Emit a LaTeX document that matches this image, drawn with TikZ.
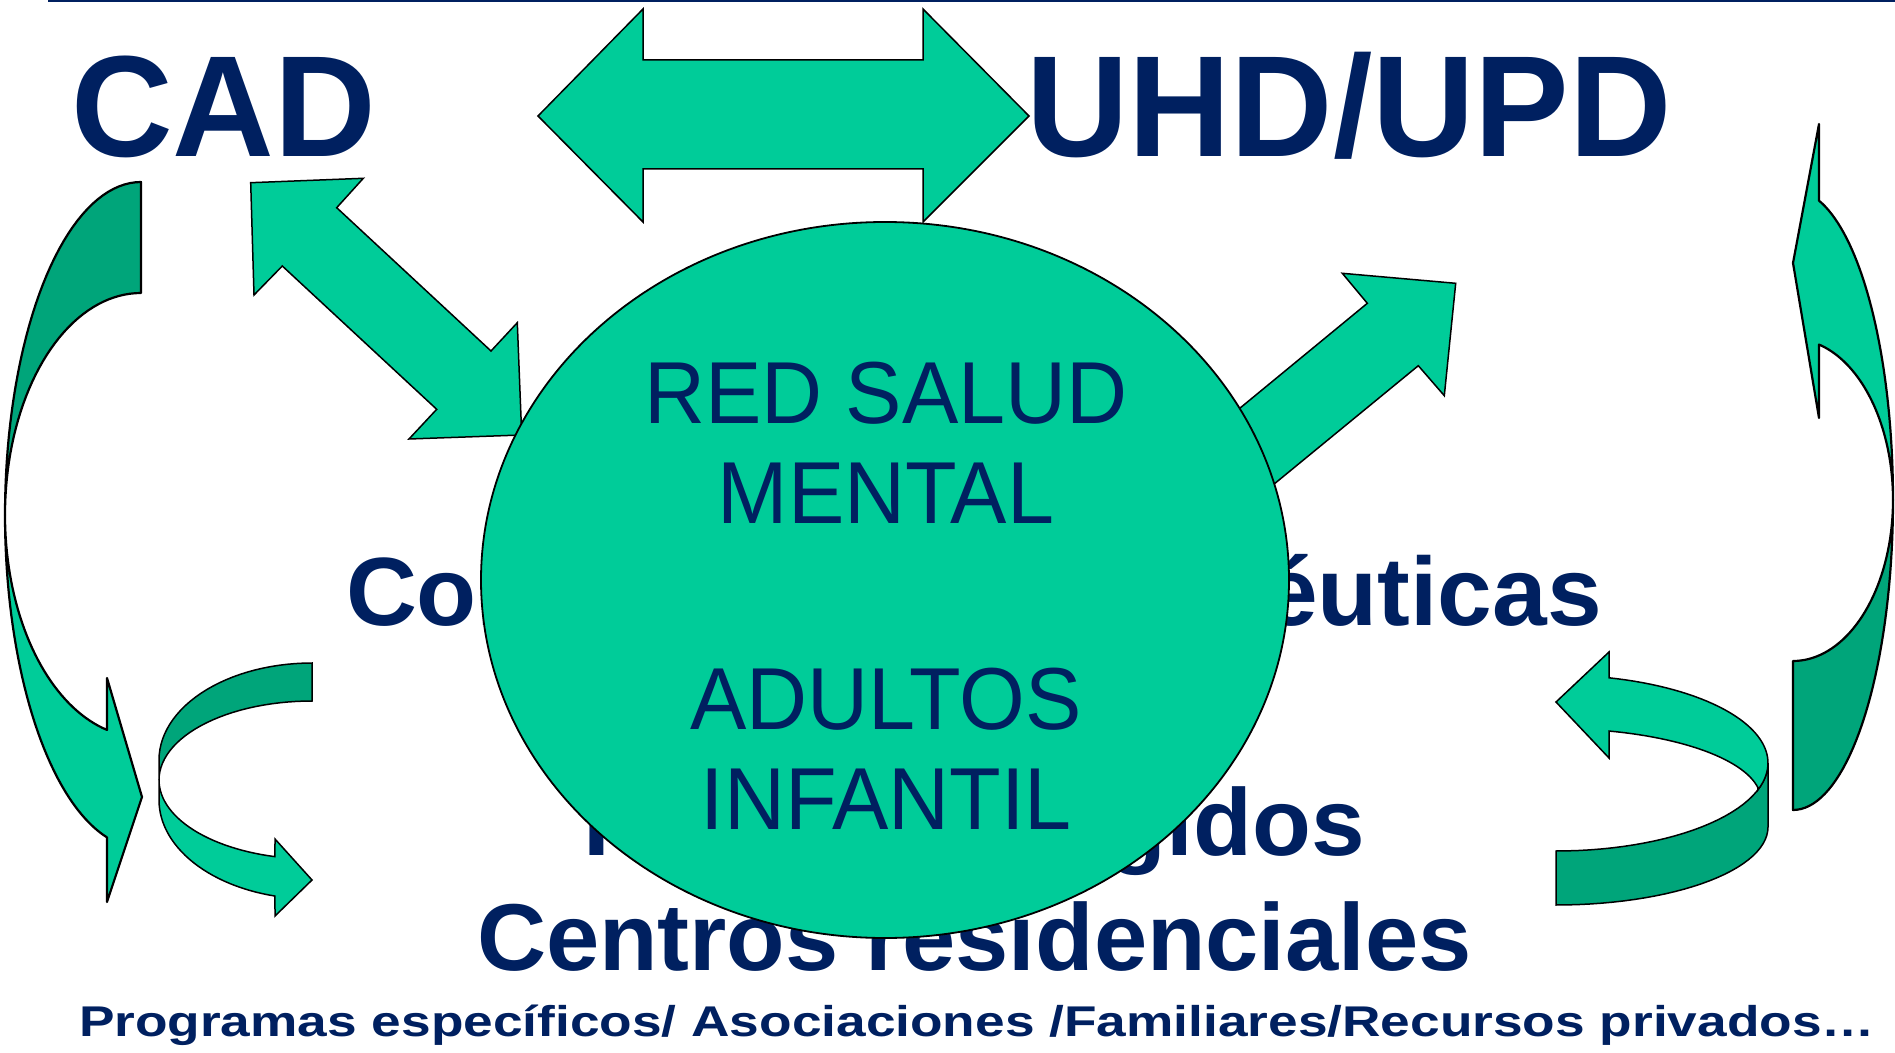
\documentclass[tikz,border=0pt]{standalone}
\usepackage{fontspec}
\setmainfont{Liberation Sans}
\usepackage{graphicx}
\usetikzlibrary{shapes.geometric}
\definecolor{lgreen}{HTML}{00CC99}
\definecolor{dgreen}{HTML}{00A57A}
\definecolor{navy}{HTML}{002060}
\newcommand\fitto[2]{\resizebox{#1}{\height}{#2}}
\tikzset{
  shp/.style={draw=black, line width=0.75pt, line join=miter, fill=lgreen},
  shpd/.style={shp, fill=dgreen},
  curv/.style={line width=1.1pt, line join=round},
  lbl/.style={inner sep=0pt, outer sep=0pt, anchor=base west, text=navy},
  ctext/.style={inner sep=0pt, outer sep=0pt, anchor=base, text=navy,
    font=\fontsize{44}{50}\selectfont},
}
\begin{document}
\begin{tikzpicture}[x=0.5pt, y=-0.5pt]
\useasboundingbox (0,0) rectangle (1895,1053);

% top rule
\draw[navy, line width=1.2pt] (48,1) -- (1895,1);

% titles
\node[lbl, font=\fontsize{72}{80}\selectfont\bfseries] (cad) at (71,157) {\fitto{152.5pt}{CAD}};
\node[lbl, font=\fontsize{72}{80}\selectfont\bfseries] (uhd) at (1026,157) {\fitto{323pt}{UHD/UPD}};

% top double arrow
\draw[shp] (538,116) -- (643,9) -- (643,60) -- (923,60) -- (923,9) -- (1029,116)
  -- (923,222) -- (923,169) -- (643,169) -- (643,222) -- cycle;

% diagonal double arrow CAD <-> centre
\draw[shp] (250.7,182.7) -- (363.3,178.3) -- (336.7,207.7) -- (491,351) -- (517.3,322.7)
  -- (521.7,435) -- (409,439) -- (436.7,409.3) -- (282.3,266) -- (254,295) -- cycle;

% arrow centre -> upper right
\draw[shp] (1087,534) -- (1367.3,303.3) -- (1342.3,273.3) -- (1455.7,283.3)
  -- (1444.3,395.7) -- (1418.3,365.7) -- (1131.7,600.9) -- cycle;

% texts partly hidden by the ellipse
\node[lbl, font=\fontsize{48.5}{55}\selectfont\bfseries] (com) at (346,625) {\fitto{628pt}{Comunidades terapéuticas}};
\node[lbl, font=\fontsize{47.5}{55}\selectfont\bfseries] (pis) at (583,855) {\fitto{391pt}{Pisos protegidos}};
\node[lbl, font=\fontsize{47.5}{55}\selectfont\bfseries] (cen) at (477,970) {\fitto{497.5pt}{Centros residenciales}};

% central ellipse
\node[ellipse, draw=black, line width=0.9pt, fill=lgreen, inner sep=0pt,
  minimum width=404pt, minimum height=358pt] (red) at (885,580) {};
\node[ctext] (t1) at (886,423) {\scalebox{0.96}[1]{RED SALUD}};
\node[ctext] (t2) at (886,523) {\scalebox{0.96}[1]{MENTAL}};
\node[ctext] (t3) at (886,729) {\scalebox{0.96}[1]{ADULTOS}};
\node[ctext] (t4) at (886,829) {\scalebox{0.96}[1]{INFANTIL}};

% big left curved arrow
\draw[shpd, curv] plot[domain=90:180, samples=40, variable=\t] ({141+136*cos(\t)},{515-333*sin(\t)})
  -- plot[domain=180:90, samples=40, variable=\t] ({141+136*cos(\t)},{515-222*sin(\t)}) -- cycle;
\draw[shp, curv] plot[domain=180:255.52, samples=40, variable=\t] ({141+136*cos(\t)},{515-333*sin(\t)})
  -- (107,902) -- (142,797) -- (107,678)
  -- plot[domain=255.52:180, samples=40, variable=\t] ({141+136*cos(\t)},{515-222*sin(\t)}) -- cycle;

% big right curved arrow
\draw[shpd, curv] plot[domain=270:360, samples=40, variable=\t] ({1793+100*cos(\t)},{500-310*sin(\t)})
  -- plot[domain=360:270, samples=40, variable=\t] ({1793+100*cos(\t)},{500-161*sin(\t)}) -- cycle;
\draw[shp, curv] plot[domain=0:74.93, samples=40, variable=\t] ({1793+100*cos(\t)},{500-310*sin(\t)})
  -- (1819,124) -- (1793,263) -- (1819,418)
  -- plot[domain=74.93:0, samples=40, variable=\t] ({1793+100*cos(\t)},{500-161*sin(\t)}) -- cycle;

% small left curved arrow
\draw[shpd] plot[domain=90:180, samples=30, variable=\t] ({312+153*cos(\t)},{760-97*sin(\t)})
  -- plot[domain=180:90, samples=30, variable=\t] ({312+153*cos(\t)},{780-79*sin(\t)}) -- cycle;
\draw[shp] (159,780) -- plot[domain=180:256, samples=30, variable=\t] ({312+153*cos(\t)},{800-99*sin(\t)})
  -- (275,916) -- (312,880) -- (275,839)
  -- plot[domain=256:180, samples=30, variable=\t] ({312+153*cos(\t)},{780-79*sin(\t)}) -- cycle;

% small right curved arrow
\draw[shpd] plot[domain=-90:0, samples=30, variable=\t] ({1556+212*cos(\t)},{763-88*sin(\t)})
  -- plot[domain=0:-90, samples=30, variable=\t] ({1556+212*cos(\t)},{827-78*sin(\t)}) -- cycle;
\draw[shp] plot[domain=75.52:-17.8, samples=40, variable=\t] ({1556+212*cos(\t)},{763-88*sin(\t)})
  -- plot[domain=10:75.02, samples=30, variable=\t] ({1556+205*cos(\t)},{800-71.4*sin(\t)})
  -- (1609,758) -- (1556,702) -- (1609,652) -- cycle;

% bottom line
\node[lbl, font=\fontsize{21.5}{25}\selectfont\bfseries] (prog) at (79,1036)
  {\fitto{898pt}{Programas específicos/ Asociaciones /Familiares/Recursos privados…}};
\end{tikzpicture}
\end{document}
